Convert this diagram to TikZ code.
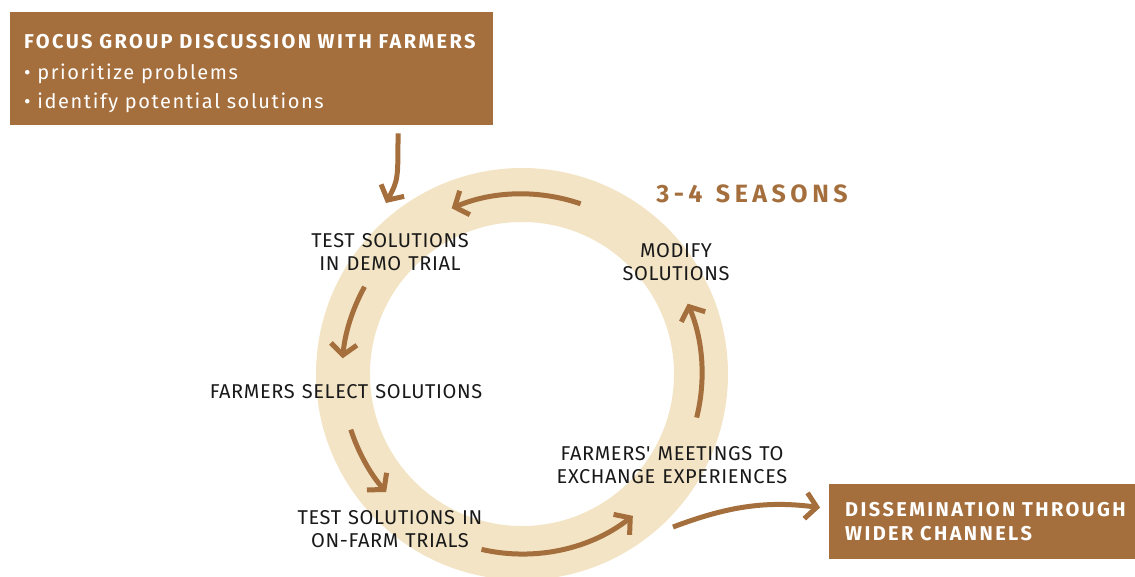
\documentclass[tikz,border=0pt]{standalone}
\usepackage{fontspec}
\setmainfont{Fira Sans}
\usetikzlibrary{arrows.meta, positioning, calc}
\definecolor{mybrown}{RGB}{164,111,61}
\definecolor{myring}{RGB}{243,228,197}
\definecolor{mytext}{RGB}{25,25,25}
\newfontfamily\lblfont{Fira Sans}[LetterSpace=3, WordSpace=1.2]
\newfontfamily\hdfont{Fira Sans}[LetterSpace=12, WordSpace=2]
\newfontfamily\ssnfont{Fira Sans}[LetterSpace=18, WordSpace=1.3]
\newfontfamily\bulfont{Fira Sans}[LetterSpace=8, WordSpace=1.8]
\newcommand{\lblsize}{\fontsize{20}{23}\selectfont}
\tikzset{
  hdbox/.style={rectangle, fill=mybrown, text=white, align=left,
    inner xsep=14pt, inner ysep=0pt, anchor=north west},
  steplabel/.style={align=center, text=mytext, font=\lblfont\lblsize,
    inner sep=0pt},
  arrow/.style={-{Straight Barb[length=11pt, width=26pt]},
    line width=5pt, color=mybrown},
  ringband/.style={draw=myring, line width=54pt}
}

\begin{document}
\begin{tikzpicture}[x=1pt, y=1pt]
  \useasboundingbox (0,0) rectangle (1135,-576);

  % The ring
  \coordinate (c) at (522,-374);
  \draw[ringband] (c) circle[radius=179];

  % Boxes
  \node[hdbox, minimum width=483, minimum height=113, text width=455,
    font=\fontsize{20}{23}\selectfont] (fgd) at (10,-12)
    {{\rule{0pt}{24pt}\hdfont\bfseries FOCUS GROUP DISCUSSION WITH FARMERS}\\[8pt]
     {\bulfont • prioritize problems}\\[6pt]
     {\bulfont • identify potential solutions}};
  \node[hdbox, minimum width=320, minimum height=75, text width=288, inner xsep=16pt,
    font=\hdfont\bfseries\fontsize{20}{24}\selectfont] (dis) at (829,-484)
    {DISSEMINATION THROUGH\\ WIDER CHANNELS};

  % Steps round the ring
  \node[steplabel] (demo) at (390,-252) {TEST SOLUTIONS\\IN DEMO TRIAL};
  \node[steplabel] (select) at (346,-392) {FARMERS SELECT SOLUTIONS};
  \node[steplabel] (onfarm) at (390,-529) {TEST SOLUTIONS IN\\ON-FARM TRIALS};
  \node[steplabel] (meet) at (672,-465) {FARMERS' MEETINGS TO\\EXCHANGE EXPERIENCES};
  \node[steplabel] (modify) at (676,-262) {MODIFY\\SOLUTIONS};
  \node[text=mybrown, font=\ssnfont\bfseries\fontsize{25}{28}\selectfont, inner sep=0pt] (seasons) at (752,-194) {3-4 SEASONS};

  % Arrow ends on the ring
  \foreach \name/\ang in {a/71, b/151, d/198, e/257, f/-14}
    \coordinate (\name) at ($(c)+(\ang:180)$);
  \coordinate (fgdend) at (386,-203);
  \coordinate (disstart) at (673,-527);

  % Arrows
  \draw[arrow, shorten <=8pt] (fgd.south -| 398,0) .. controls (398,-180) .. (fgdend);
  \draw[arrow] (a) arc[start angle=71, end angle=113, radius=180];
  \draw[arrow] (b) arc[start angle=151, end angle=175, radius=180];
  \draw[arrow] (d) arc[start angle=198, end angle=221, radius=180];
  \draw[arrow] (e) arc[start angle=257, end angle=308, radius=180];
  \draw[arrow] (f) arc[start angle=-14, end angle=23, radius=180];
  \draw[arrow, shorten >=9pt] (disstart) to[bend left=14] ([yshift=13pt]dis.west);
\end{tikzpicture}
\end{document}
